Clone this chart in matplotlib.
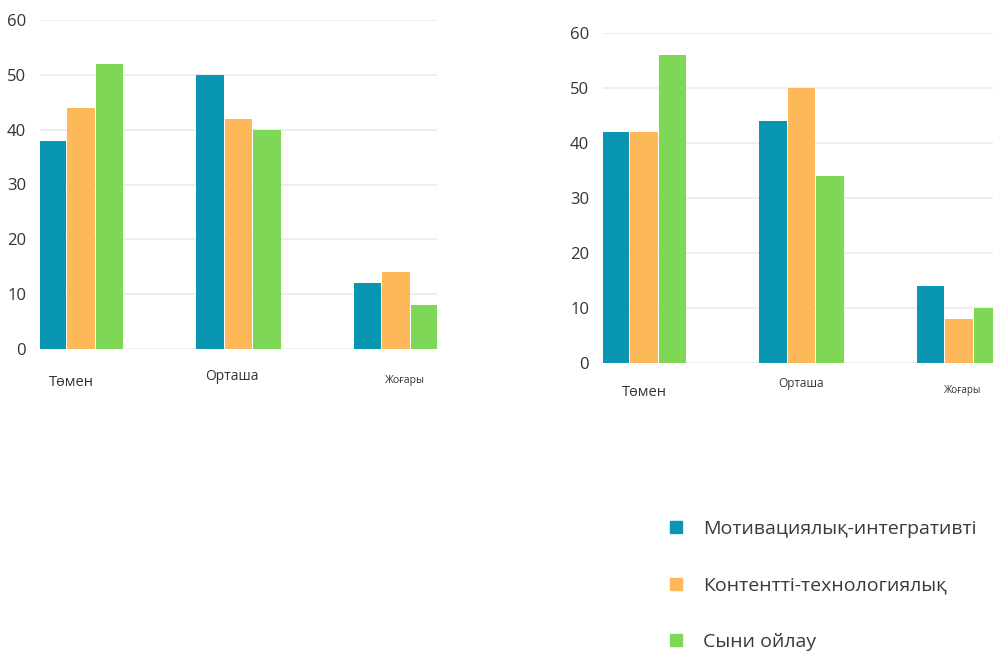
import matplotlib.pyplot as plt
from matplotlib.lines import Line2D
import numpy as np

plt.rcParams['font.family'] = ['Open Sans', 'DejaVu Sans']

categories = ["Төмен", "Орташа", "Жоғары"]
series_names = ["Мотивациялық-интегративті", "Контентті-технологиялық", "Сыни ойлау"]

left_values = [
    [38, 50, 12],
    [44, 42, 14],
    [52, 40, 8],
]
right_values = [
    [42, 44, 14],
    [42, 50, 8],
    [56, 34, 10],
]
y_ticks = [0, 10, 20, 30, 40, 50, 60]

colors = ["#0896b1", "#fdb859", "#7fd756"]
grid_clr = "#ebebeb"
text_clr = "#333333"

W, H = 993, 653
fig = plt.figure(figsize=(W / 100, H / 100), dpi=100)


def px_axes(x0, x1, y_top, y_zero):
    # pixel box -> figure fraction
    return fig.add_axes([x0 / W, (H - y_zero) / H, (x1 - x0) / W, (y_zero - y_top) / H])


def draw_chart(ax, values, label_style):
    x = np.arange(len(categories))
    stride = 0.181
    width = 0.172
    for i, vals in enumerate(values):
        ax.bar(x + (i - 1) * stride, vals, width, color=colors[i], zorder=3)
    ax.set_xlim(-0.26, 2.26)
    ax.set_ylim(0, 60)
    ax.set_yticks(y_ticks)
    ax.yaxis.grid(True, color=grid_clr, linewidth=1.2, zorder=0)
    ax.set_xticks([])
    ax.tick_params(axis='y', length=0, pad=10, labelsize=12, labelcolor=text_clr)
    for s in ax.spines.values():
        s.set_visible(False)
    for j, (dx, dy, size) in enumerate(label_style):
        ax.annotate(categories[j], xy=(j + dx, 0), xycoords='data',
                    xytext=(0, -dy), textcoords='offset pixels',
                    ha='center', va='center', fontsize=size, color=text_clr)


ax1 = px_axes(40, 437, 20, 349)
draw_chart(ax1, left_values, [(-0.063, 34, 10.5), (-0.04, 28, 10), (0.057, 31, 7.5)])

ax2 = px_axes(603, 1000, 33, 363)
draw_chart(ax2, right_values, [(0.0, 30, 10.5), (0.0, 20, 8.5), (0.02, 27, 7)])

handles = [Line2D([], [], linestyle='none', marker='s', markersize=8.5,
                  color=c) for c in colors]
fig.legend(handles, series_names, loc='upper left',
           bbox_to_anchor=(649 / W, 1 - 502 / H), frameon=False,
           fontsize=14, labelcolor='#3a3a3a', labelspacing=2.0,
           handlelength=1.0, handletextpad=0.9)

fig.savefig("out.png", dpi=100)
